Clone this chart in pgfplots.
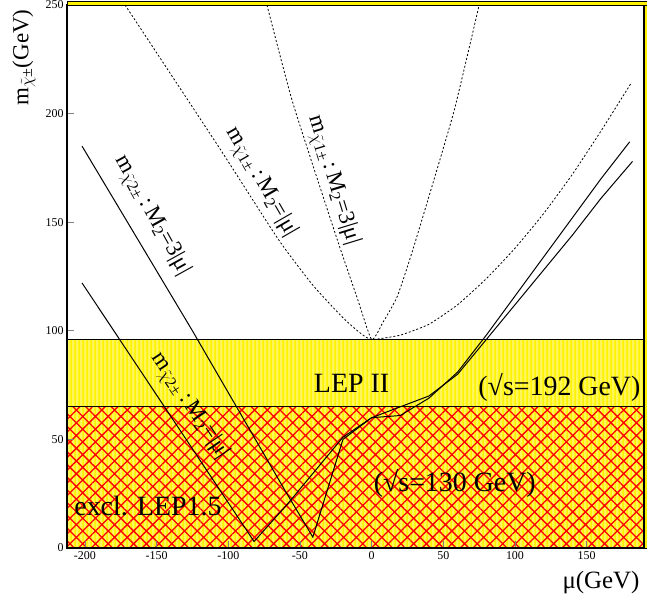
\documentclass[border=0pt]{standalone}
\usepackage{fontspec}
\setmainfont{Liberation Serif}
\usepackage{pgfplots}
\pgfplotsset{compat=1.18}
\usetikzlibrary{patterns,patterns.meta}

% short white dashes laid over the yellow band
\pgfdeclarepatternformonly{whitedash}{\pgfqpoint{0bp}{0bp}}{\pgfqpoint{4bp}{2.4bp}}{\pgfqpoint{4bp}{2.4bp}}{%
  \pgfpathrectangle{\pgfqpoint{0.3bp}{0.7bp}}{\pgfqpoint{2.8bp}{1bp}}\pgfusepath{fill}}

\newcommand{\lblfont}{\fontsize{23}{23}\selectfont}
\newcommand{\bigfont}{\fontsize{28}{28}\selectfont}

\begin{document}
\begin{tikzpicture}
\begin{axis}[
  width=577bp, height=543bp, scale only axis,
  xmin=-212.5, xmax=190, ymin=0, ymax=250,
  xtick={-200,-150,...,150}, ytick={0,50,...,250},
  xtick pos=bottom, ytick pos=left,
  tick align=inside, major tick length=7bp,
  tick style={gray, line width=0.8bp},
  axis line style={line width=1.2bp},
  /pgf/number format/assume math mode=true,
  ticklabel style={font=\fontsize{12}{12}\selectfont},
  axis on top,
]
% excluded regions
\addplot[draw=none, fill=yellow] coordinates {(-212.5,0) (190,0) (190,96) (-212.5,96)} -- cycle;
\addplot[draw=none, pattern=whitedash, pattern color=white] coordinates {(-212.5,0) (190,0) (190,96) (-212.5,96)} -- cycle;
\addplot[draw=none, pattern={Hatch[angle=45,distance=9bp,line width=1.3bp]}, pattern color=red] coordinates {(-212.5,0) (190,0) (190,65) (-212.5,65)} -- cycle;
\addplot[black, line width=0.7bp] coordinates {(-212.5,96) (190,96)};
\addplot[black, line width=0.7bp] coordinates {(-212.5,65) (190,65)};

% chi2 +- , M2 = 3|mu|
\addplot[black, line width=1bp] coordinates {
  (-202,185) (-125,100) (-60,26) (-41,5) (-20,50) (0,60) (20,61) (40,69)
  (60,81) (80,98) (100,116) (120,134) (140,152) (160,170) (180,187)};
% chi2 +- , M2 = |mu|
\addplot[black, line width=1bp] coordinates {
  (-202,122) (-82,3) (-59,20) (-20,51) (0,60) (40,70)
  (60,80) (80,96) (100,112) (120,128) (140,144) (160,161) (182,178)};

% chi1 +- , M2 = |mu|
\addplot[black, line width=0.8bp, dash pattern=on 2bp off 2bp, smooth, tension=0.3] coordinates {
  (-172,250) (-107,185) (-65,142) (-41,121)
  (-20,106) (-8,99) (0,96) (20,98) (40,103) (60,112) (80,124) (100,138)
  (120,154) (140,172) (160,192) (181,214)};
% chi1 +- , M2 = 3|mu|
\addplot[black, line width=0.8bp, dash pattern=on 2bp off 2bp, smooth, tension=0.3] coordinates {
  (-73,250) (-55,205) (-24,142) (-10,115) (0,96) (8,104) (18,116)
  (30,140) (57,200) (75,250)};

% curve labels
\node[rotate=-61, font=\lblfont] at (axis cs:-153,153) {m\textsubscript{$\tilde{\chi}$2±}\,:\,M\textsubscript{2}=3|μ|};
\node[rotate=-56, font=\lblfont] at (axis cs:-127,65.5) {m\textsubscript{$\tilde{\chi}$2±}\,:\,M\textsubscript{2}=|μ|};
\node[rotate=-60, font=\lblfont] at (axis cs:-77,168.4) {m\textsubscript{$\tilde{\chi}$1±}\,:\,M\textsubscript{2}=|μ|};
\node[rotate=-73, font=\lblfont] at (axis cs:-27,169.3) {m\textsubscript{$\tilde{\chi}$1±}\,:\,M\textsubscript{2}=3|μ|};

% region labels
\node[font=\bigfont] at (axis cs:-14,75.6) {LEP II};
\node[font=\bigfont] at (axis cs:131,73.8) {(√s=192 GeV)};
\node[font=\bigfont] at (axis cs:58,29.5) {(√s=130 GeV)};
\node[font=\bigfont] at (axis cs:-156,19.4) {excl. LEP1.5};
\end{axis}

% frame shading along the top and right edges
\draw[black, fill=yellow, line width=0.5bp] (current axis.north west) rectangle ([xshift=3bp, yshift=4bp]current axis.north east);
\draw[black, fill=yellow, line width=0.5bp] (current axis.south east) rectangle ([xshift=3bp]current axis.north east);

% axis titles
\node[font=\fontsize{25}{25}\selectfont, anchor=east] at ([xshift=-1bp, yshift=-35bp]current axis.south east) {μ(GeV)};
\node[font=\fontsize{23}{23}\selectfont, rotate=90, anchor=north east] at ([xshift=-58bp, yshift=-1bp]current axis.north west) {m\textsubscript{$\tilde{\chi}$±}(GeV)};

\pgfresetboundingbox
\useasboundingbox ([xshift=-67bp, yshift=-53bp]current axis.south west) rectangle ([xshift=3bp, yshift=5bp]current axis.north east);
\end{tikzpicture}
\end{document}
